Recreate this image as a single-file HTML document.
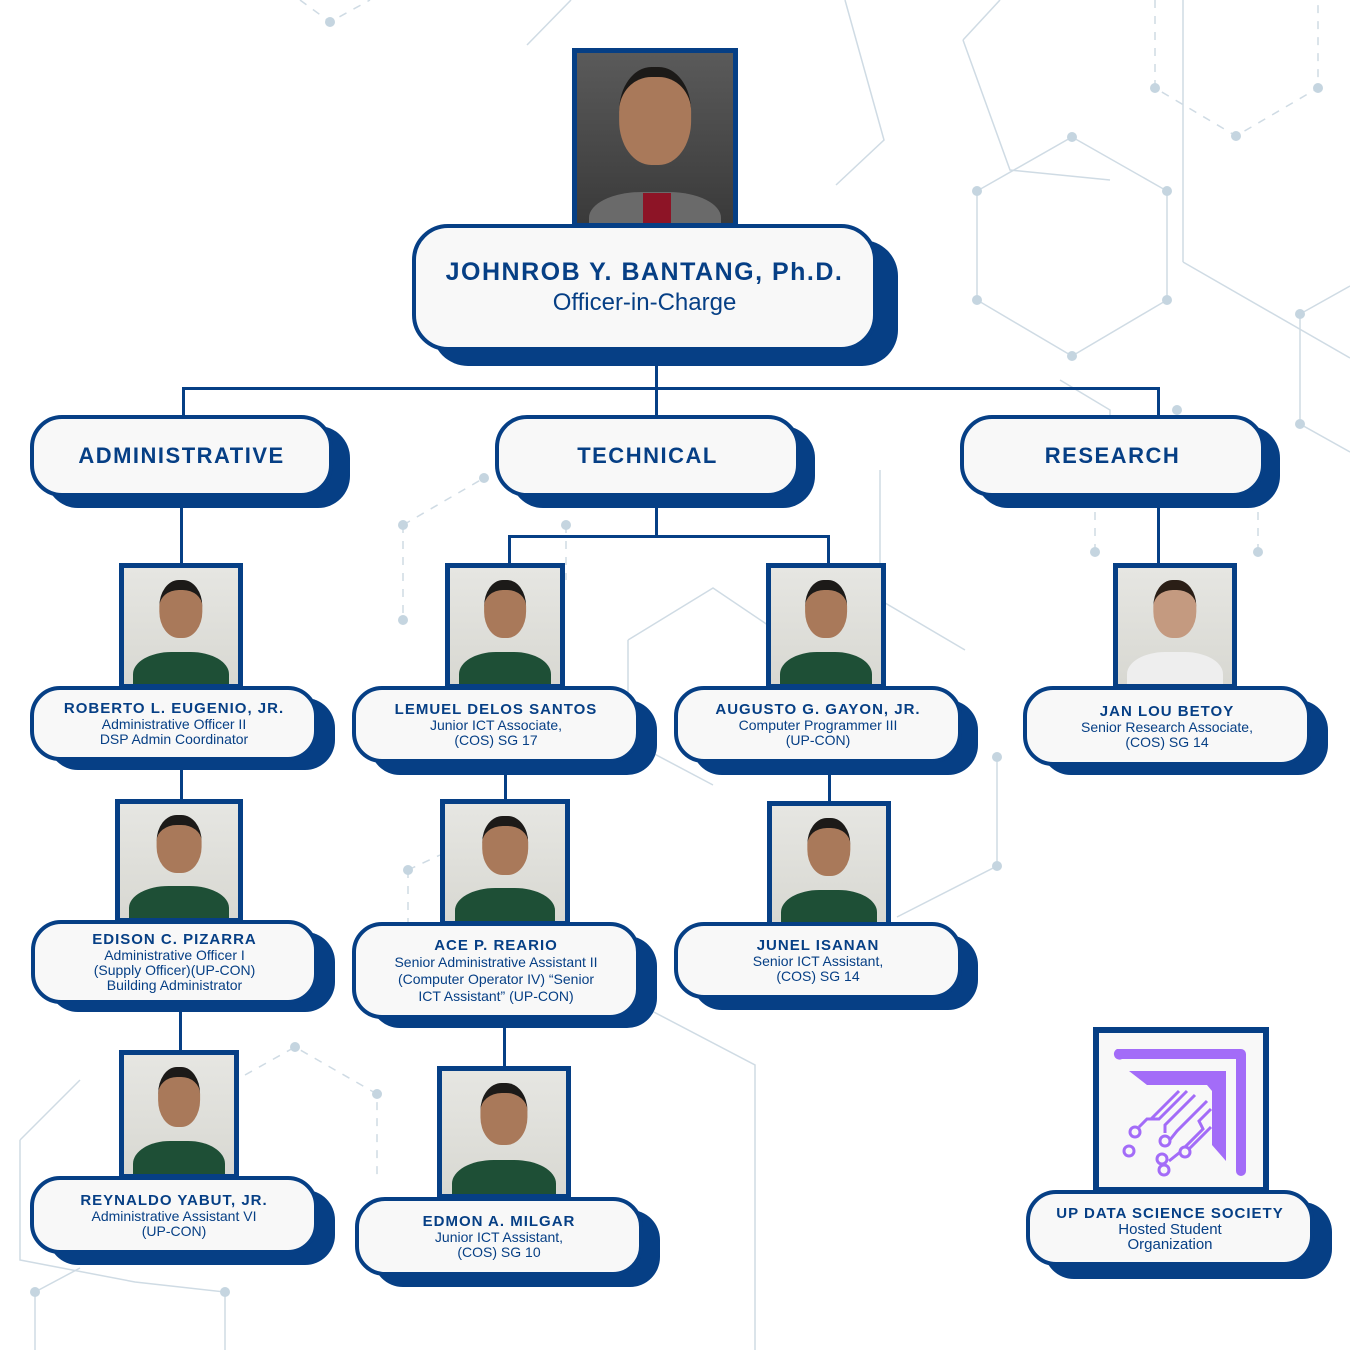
<!DOCTYPE html>
<html><head><meta charset="utf-8"><style>
body{margin:0;width:1350px;height:1350px;position:relative;background:#fff;overflow:hidden;font-family:"Liberation Sans",sans-serif;color:#063f85}
.a{position:absolute;box-sizing:border-box}
.sh{background:#063f85}
.bx{background:#f8f8f8;border:4px solid #063f85;display:flex;flex-direction:column;justify-content:center;align-items:center;text-align:center}
.n{font-weight:bold;font-size:15px;letter-spacing:1px;line-height:17px}
.s{font-size:14px;line-height:15px}
.ph{border:5px solid #063f85;background:linear-gradient(#e6e6e2,#d8d8d2);overflow:hidden}
.ph .hd{position:absolute;left:50%;width:38%;height:42%;top:10%;transform:translateX(-50%);background:#a9795a;border-radius:45%;border-top:10px solid #1c1a18}
.ph .bd{position:absolute;left:8%;right:8%;bottom:-20%;height:48%;background:#1e4f36;border-radius:40% 40% 0 0}
.l{position:absolute;background:#063f85}
</style></head><body>
<svg class="a" style="left:0;top:0" width="1350" height="1350">
<g stroke="#cfdbe4" stroke-width="1.5" fill="none">
<polygon points="1072,137 1167,191 1167,300 1072,356 977,300 977,191"/>
<polyline points="527,45 571,0"/><polyline points="845,0 884,140 836,185"/>
<polyline points="963,40 1000,0"/><polyline points="963,40 1010,170 1110,180"/>
<polyline points="1183,262 1350,358"/><polyline points="1300,314 1300,424 1350,452"/><polyline points="1300,314 1350,286"/>
<polyline points="628,640 713,588 790,640"/><polyline points="628,640 628,740 713,785"/>
<polyline points="997,757 997,866 897,917"/>
<polyline points="880,470 880,600 965,650"/>
<polyline points="650,1010 755,1065 755,1350"/>
<polyline points="20,1140 80,1080"/><polyline points="20,1140 20,1260 135,1282 225,1292 225,1350"/>
<polyline points="35,1292 35,1350"/><polyline points="35,1292 80,1268"/>
<polyline points="1183,262 1183,0"/>
<polyline points="1060,380 1110,410 1110,500"/>
</g>
<g stroke="#cfdbe4" stroke-width="1.5" fill="none" stroke-dasharray="8,8">
<polyline points="300,0 330,22 370,0"/><polyline points="1155,0 1155,88 1236,136 1318,88 1318,0"/>
<polyline points="403,525 484,478"/><polyline points="403,525 403,620"/>
<polyline points="566,525 566,580"/><polyline points="1095,552 1095,500"/><polyline points="1258,552 1258,500"/>
<polyline points="408,870 408,960"/><polyline points="408,870 440,855"/>
<polyline points="245,1075 295,1047 377,1094 377,1180"/>
</g>
<g fill="#c5d5e0">
<circle cx="330" cy="22" r="5"/><circle cx="1155" cy="88" r="5"/><circle cx="1236" cy="136" r="5"/><circle cx="1318" cy="88" r="5"/>
<circle cx="1072" cy="137" r="5"/><circle cx="1167" cy="191" r="5"/><circle cx="1167" cy="300" r="5"/><circle cx="1072" cy="356" r="5"/><circle cx="977" cy="300" r="5"/><circle cx="977" cy="191" r="5"/>
<circle cx="1300" cy="314" r="5"/><circle cx="1300" cy="424" r="5"/><circle cx="484" cy="478" r="5"/><circle cx="403" cy="525" r="5"/><circle cx="566" cy="525" r="5"/><circle cx="403" cy="620" r="5"/>
<circle cx="1095" cy="552" r="5"/><circle cx="1258" cy="552" r="5"/><circle cx="1177" cy="410" r="5"/>
<circle cx="997" cy="757" r="5"/><circle cx="997" cy="866" r="5"/><circle cx="408" cy="870" r="5"/>
<circle cx="295" cy="1047" r="5"/><circle cx="377" cy="1094" r="5"/><circle cx="35" cy="1292" r="5"/><circle cx="225" cy="1292" r="5"/>
</g>
</svg>

<!-- connectors -->
<div class="l" style="left:655px;top:350px;width:3px;height:66px"></div>
<div class="l" style="left:182px;top:387px;width:978px;height:3px"></div>
<div class="l" style="left:182px;top:387px;width:3px;height:30px"></div>
<div class="l" style="left:1157px;top:387px;width:3px;height:30px"></div>
<div class="l" style="left:180px;top:505px;width:3px;height:60px"></div>
<div class="l" style="left:1157px;top:505px;width:3px;height:60px"></div>
<div class="l" style="left:655px;top:505px;width:3px;height:33px"></div>
<div class="l" style="left:508px;top:535px;width:322px;height:3px"></div>
<div class="l" style="left:508px;top:535px;width:3px;height:30px"></div>
<div class="l" style="left:827px;top:535px;width:3px;height:30px"></div>
<div class="l" style="left:180px;top:765px;width:3px;height:36px"></div>
<div class="l" style="left:179px;top:1005px;width:3px;height:47px"></div>
<div class="l" style="left:504px;top:770px;width:3px;height:32px"></div>
<div class="l" style="left:503px;top:1025px;width:3px;height:43px"></div>
<div class="l" style="left:828px;top:770px;width:3px;height:33px"></div>

<!-- top -->
<div class="a ph" style="left:572px;top:48px;width:166px;height:180px;background:linear-gradient(#5a5a5a,#3a3a3a)"><div class="hd" style="width:46%;height:52%;top:8%"></div><div class="bd" style="background:#6a6a6a;height:38%"></div><div class="a" style="left:42%;width:18%;bottom:0;height:30px;background:#8d1426"></div></div>
<div class="a sh" style="left:432px;top:240px;width:466px;height:126px;border-radius:36px"></div>
<div class="a bx" style="left:412px;top:224px;width:465px;height:127px;border-radius:36px">
<div style="font-weight:bold;font-size:25px;letter-spacing:1.5px">JOHNROB Y. BANTANG, Ph.D.</div>
<div style="font-size:24px;margin-top:2px">Officer-in-Charge</div></div>

<!-- depts -->
<div class="a sh" style="left:46px;top:426px;width:304px;height:82px;border-radius:32px"></div>
<div class="a bx" style="left:30px;top:415px;width:303px;height:82px;border-radius:32px"><div style="font-weight:bold;font-size:22px;letter-spacing:1.5px">ADMINISTRATIVE</div></div>
<div class="a sh" style="left:511px;top:426px;width:304px;height:82px;border-radius:32px"></div>
<div class="a bx" style="left:495px;top:415px;width:305px;height:82px;border-radius:32px"><div style="font-weight:bold;font-size:22px;letter-spacing:1.5px">TECHNICAL</div></div>
<div class="a sh" style="left:976px;top:426px;width:304px;height:82px;border-radius:32px"></div>
<div class="a bx" style="left:960px;top:415px;width:305px;height:82px;border-radius:32px"><div style="font-weight:bold;font-size:22px;letter-spacing:1.5px">RESEARCH</div></div>

<!-- Roberto -->
<div class="a ph" style="left:119px;top:563px;width:124px;height:126px"><div class="hd"></div><div class="bd"></div></div>
<div class="a sh" style="left:48px;top:698px;width:287px;height:72px;border-radius:30px"></div>
<div class="a bx" style="left:30px;top:686px;width:288px;height:75px;border-radius:30px"><div class="n">ROBERTO L. EUGENIO, JR.</div><div class="s">Administrative Officer II<br>DSP Admin Coordinator</div></div>

<!-- Lemuel -->
<div class="a ph" style="left:445px;top:563px;width:120px;height:126px"><div class="hd"></div><div class="bd"></div></div>
<div class="a sh" style="left:370px;top:700px;width:287px;height:75px;border-radius:30px"></div>
<div class="a bx" style="left:352px;top:686px;width:288px;height:77px;border-radius:30px"><div class="n">LEMUEL DELOS SANTOS</div><div class="s">Junior ICT Associate,<br>(COS) SG 17</div></div>

<!-- Augusto -->
<div class="a ph" style="left:766px;top:563px;width:120px;height:126px"><div class="hd"></div><div class="bd"></div></div>
<div class="a sh" style="left:692px;top:700px;width:286px;height:75px;border-radius:30px"></div>
<div class="a bx" style="left:674px;top:686px;width:288px;height:77px;border-radius:30px"><div class="n">AUGUSTO G. GAYON, JR.</div><div class="s">Computer Programmer III<br>(UP-CON)</div></div>

<!-- Jan Lou -->
<div class="a ph" style="left:1113px;top:563px;width:124px;height:126px"><div class="hd" style="background:#c49a80;border-top-color:#2a1e16"></div><div class="bd" style="background:#eeeeee"></div></div>
<div class="a sh" style="left:1041px;top:700px;width:287px;height:75px;border-radius:30px"></div>
<div class="a bx" style="left:1023px;top:686px;width:288px;height:80px;border-radius:30px"><div class="n">JAN LOU BETOY</div><div class="s">Senior Research Associate,<br>(COS) SG 14</div></div>

<!-- Edison -->
<div class="a ph" style="left:115px;top:799px;width:128px;height:124px"><div class="hd"></div><div class="bd"></div></div>
<div class="a sh" style="left:48px;top:932px;width:287px;height:80px;border-radius:30px"></div>
<div class="a bx" style="left:31px;top:920px;width:287px;height:84px;border-radius:30px"><div class="n">EDISON C. PIZARRA</div><div class="s">Administrative Officer I<br>(Supply Officer)(UP-CON)<br>Building Administrator</div></div>

<!-- Ace -->
<div class="a ph" style="left:440px;top:799px;width:130px;height:127px"><div class="hd"></div><div class="bd"></div></div>
<div class="a sh" style="left:370px;top:936px;width:287px;height:92px;border-radius:30px"></div>
<div class="a bx" style="left:352px;top:922px;width:288px;height:97px;border-radius:30px"><div class="n">ACE P. REARIO</div><div class="s" style="font-size:14px;line-height:17px">Senior Administrative Assistant II<br>(Computer Operator IV) “Senior<br>ICT Assistant” (UP-CON)</div></div>

<!-- Junel -->
<div class="a ph" style="left:767px;top:801px;width:124px;height:126px"><div class="hd"></div><div class="bd"></div></div>
<div class="a sh" style="left:692px;top:935px;width:286px;height:75px;border-radius:30px"></div>
<div class="a bx" style="left:674px;top:922px;width:288px;height:77px;border-radius:30px"><div class="n">JUNEL ISANAN</div><div class="s">Senior ICT Assistant,<br>(COS) SG 14</div></div>

<!-- Reynaldo -->
<div class="a ph" style="left:119px;top:1050px;width:120px;height:129px"><div class="hd"></div><div class="bd"></div></div>
<div class="a sh" style="left:48px;top:1190px;width:287px;height:75px;border-radius:30px"></div>
<div class="a bx" style="left:30px;top:1176px;width:288px;height:78px;border-radius:30px"><div class="n">REYNALDO YABUT, JR.</div><div class="s">Administrative Assistant VI<br>(UP-CON)</div></div>

<!-- Edmon -->
<div class="a ph" style="left:437px;top:1066px;width:134px;height:133px"><div class="hd"></div><div class="bd"></div></div>
<div class="a sh" style="left:373px;top:1210px;width:287px;height:77px;border-radius:30px"></div>
<div class="a bx" style="left:355px;top:1197px;width:288px;height:79px;border-radius:30px"><div class="n">EDMON A. MILGAR</div><div class="s">Junior ICT Assistant,<br>(COS) SG 10</div></div>

<!-- UP DSS -->
<div class="a" style="left:1093px;top:1027px;width:176px;height:166px;border:6px solid #063f85;background:#f8f8f8">
<svg width="164" height="154" viewBox="0 0 164 154"><g fill="#a36cf8"><path d="M18,16 H142 a5,5 0 0 1 5,5 V138 a5,5 0 0 1 -10,0 V26 H23 a5,5 0 0 1 -5,-10z"/><path d="M30,38 H127 V128 L113,112 V58 L108,52 H48z"/></g>
<g stroke="#a36cf8" stroke-width="3" fill="none"><path d="M88,58 L60,86 L48,86 L40,94"/><path d="M96,62 L66,92 L66,100"/><path d="M108,68 L78,98 L70,108"/><path d="M112,76 L100,88 L104,96 L80,120 L70,128"/><path d="M112,94 L90,116"/><path d="M80,58 L52,86"/></g>
<g fill="#f8f8f8" stroke="#a36cf8" stroke-width="3"><circle cx="36" cy="99" r="5"/><circle cx="30" cy="118" r="5"/><circle cx="66" cy="108" r="5"/><circle cx="63" cy="126" r="5"/><circle cx="86" cy="119" r="5"/><circle cx="65" cy="137" r="5"/></g></svg></div>
<div class="a sh" style="left:1044px;top:1202px;width:288px;height:77px;border-radius:30px"></div>
<div class="a bx" style="left:1026px;top:1190px;width:288px;height:76px;border-radius:30px"><div class="n">UP DATA SCIENCE SOCIETY</div><div class="s" style="font-size:15px">Hosted Student<br>Organization</div></div>
</body></html>
